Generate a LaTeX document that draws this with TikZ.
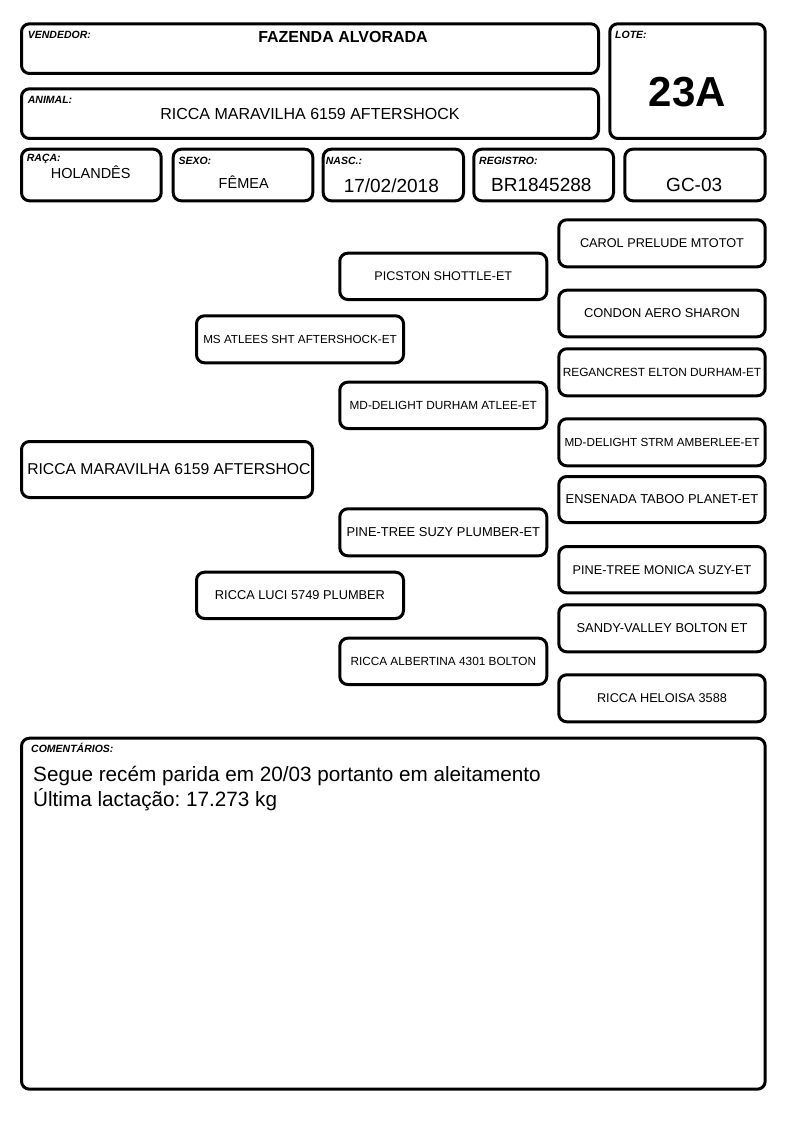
\documentclass[tikz,border=0pt]{standalone}
\usepackage{fontspec}
\setmainfont{Liberation Sans}
\frenchspacing
\newcommand\fsz[1]{\fontsize{#1}{#1}\selectfont}
\newcommand\bx[7]{\node[box, minimum width={#4-#2}, minimum height={#5-#3}, font=\fsz{#6}] (#1) at ({(#2+#4)/2},{(#3+#5)/2}) {#7};}
\begin{document}
\begin{tikzpicture}[x=1pt,y=-1pt,
  box/.style={draw, line width=3pt, rounded corners=8pt, inner sep=0pt},
  lbl/.style={anchor=base west, inner sep=0pt, font=\fsz{10.5}\bfseries\itshape},
  val/.style={anchor=base, inner sep=0pt}]
\useasboundingbox (0,0) rectangle (794,1123);
% header boxes
\bx{vend}{21.5}{23.8}{598.5}{73.5}{10}{}
\bx{lote}{609.8}{23.8}{765.2}{138.5}{10}{}
\bx{anim}{21.5}{88.8}{598.5}{138.5}{10}{}
\bx{raca}{21.5}{149.2}{161.2}{200.8}{10}{}
\bx{sexo}{173.2}{149.2}{312.8}{200.8}{10}{}
\bx{nasc}{323.2}{149.2}{463.5}{200.8}{10}{}
\bx{regi}{473.8}{149.2}{613.5}{200.8}{10}{}
\bx{gc}{624.8}{149.2}{765.2}{200.8}{10}{}
% labels
\node[lbl] (lvend) at (27.7,39) {VENDEDOR:};
\node[lbl] (llote) at (615,38.3) {LOTE:};
\node[lbl] (lanim) at (27.7,103.3) {ANIMAL:};
\node[lbl] (lraca) at (26.7,161.5) {RAÇA:};
\node[lbl] (lsexo) at (178.3,164.3) {SEXO:};
\node[lbl] (lnasc) at (325.7,164.3) {NASC.:};
\node[lbl] (lregi) at (479,165) {REGISTRO:};
% values
\node[val, font=\fsz{16}\bfseries] (tvend) at (343,43) {FAZENDA ALVORADA};
\node[val, font=\fsz{42}\bfseries] (tlote) at (687.5,106.7) {23A};
\node[val, font=\fsz{16}] (tanim) at (310,119.7) {RICCA MARAVILHA 6159 AFTERSHOCK};
\node[val, font=\fsz{14.5}] (traca) at (90.7,178.3) {HOLANDÊS};
\node[val, font=\fsz{14.5}] (tsexo) at (243.7,189) {FÊMEA};
\node[val, font=\fsz{19}] (tnasc) at (391.3,192.3) {17/02/2018};
\node[val, font=\fsz{19}] (tregi) at (541.3,191.7) {BR1845288};
\node[val, font=\fsz{19}] (tgc) at (694.2,191.7) {GC-03};
% pedigree
\bx{p0}{21.5}{441.5}{312.5}{497.5}{15.7}{\hspace*{3.8pt}RICCA MARAVILHA 6159 AFTERSHOC}
\bx{p1}{196.5}{315.8}{403.5}{362.8}{11.7}{MS ATLEES SHT AFTERSHOCK-ET}
\bx{p2}{196.5}{572.2}{403.5}{618.5}{12.8}{RICCA LUCI 5749 PLUMBER}
\bx{p3}{339.8}{253.2}{546.8}{299.5}{12.6}{PICSTON SHOTTLE-ET}
\bx{p4}{339.8}{382.2}{546.8}{428.5}{11.8}{MD-DELIGHT DURHAM ATLEE-ET}
\bx{p5}{339.8}{508.8}{546.8}{555.8}{12.9}{PINE-TREE SUZY PLUMBER-ET}
\bx{p6}{339.8}{638.2}{546.8}{684.5}{11.8}{RICCA ALBERTINA 4301 BOLTON}
\bx{p7}{558.8}{219.8}{765.2}{266.8}{12.7}{CAROL PRELUDE MTOTOT}
\bx{p8}{558.8}{290.2}{765.2}{336.8}{12.85}{CONDON AERO SHARON}
\bx{p9}{558.8}{348.8}{765.2}{395.8}{11.85}{REGANCREST ELTON DURHAM-ET}
\bx{p10}{558.8}{418.8}{765.2}{465.8}{11.7}{MD-DELIGHT STRM AMBERLEE-ET}
\bx{p11}{558.8}{476.5}{765.2}{522.5}{12.9}{ENSENADA TABOO PLANET-ET}
\bx{p12}{558.8}{546.5}{765.2}{592.8}{12.7}{PINE-TREE MONICA SUZY-ET}
\bx{p13}{558.8}{604.8}{765.2}{651.8}{12.9}{SANDY-VALLEY BOLTON ET}
\bx{p14}{558.8}{674.8}{765.2}{721.8}{12.7}{RICCA HELOISA 3588}
% comments
\bx{cmt}{21.5}{738.2}{765.2}{1089.2}{10}{}
\node[lbl] (lcmt) at (31,752.3) {COMENTÁRIOS:};
\node[anchor=base west, inner sep=0pt, font=\fsz{20.7}] (c1) at (33,781.7) {Segue recém parida em 20/03 portanto em aleitamento};
\node[anchor=base west, inner sep=0pt, font=\fsz{20.7}] (c2) at (33,806.7) {Última lactação: 17.273 kg};
\end{tikzpicture}
\end{document}
